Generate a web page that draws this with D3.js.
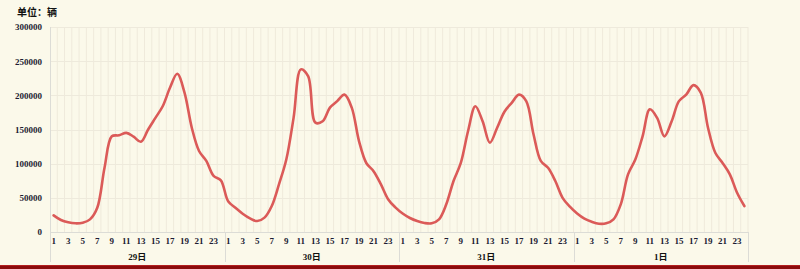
<!DOCTYPE html>
<html>
<head>
<meta charset="utf-8">
<script src="https://cdn.jsdelivr.net/npm/d3@7/dist/d3.min.js"></script>
<style>
  html, body { margin: 0; padding: 0; background: #fbf9ea; }
  svg { display: block; }
</style>
</head>
<body>
<div class="chart"></div>
<script>
(function (d3) {
    'use strict';

    var days = ["29日", "30日", "31日", "1日"];
    var hours = d3.range(1, 25);
    var yTicks = [0, 50000, 100000, 150000, 200000, 250000, 300000];

    var day29 = [24400, 17600, 14200, 12700, 13600, 18500, 35500, 94000, 140000, 141500, 145000, 139500,
                 132000, 150000, 167000, 184000, 211000, 231500, 204000, 152600, 118500, 104000, 82000, 75600];
    var day30 = [45000, 35500, 26800, 20000, 16000, 21000, 38000, 70000, 106000, 167000, 238000, 228000,
                 160000, 162000, 182000, 191500, 201000, 182000, 133000, 101000, 89000, 70000, 48000, 36000];
    var day31 = [27000, 20500, 16000, 13200, 12700, 18500, 40500, 74600, 101000, 147800, 184000, 162000,
                 130600, 152600, 176000, 189000, 201000, 191500, 143000, 104000, 94000, 74600, 50000, 37000];
    var day1  = [27000, 19500, 15000, 12100, 12700, 18500, 40500, 84400, 106000, 140000, 179500, 167000,
                 140000, 162000, 191500, 201000, 215000, 204000, 152600, 116000, 101000, 84400, 57500, 38000];
    var series = [day29, day30, day31, day1];

    var width = 800, height = 269,
        margin = {top: 27, right: 52, bottom: 37, left: 50},
        innerW = width - margin.left - margin.right,
        innerH = height - margin.top - margin.bottom;

    var points = [];
    days.forEach(function (day, di) {
        hours.forEach(function (h, hi) {
            points.push({key: di + "-" + h, day: day, hour: h, value: series[di][hi]});
        });
    });

    var svg = d3.select(".chart").append("svg")
        .attr("width", width)
        .attr("height", height)
        .style("background", "#fbf9ea");

    // title
    svg.append("text")
        .attr("x", 17).attr("y", 16)
        .attr("font-family", "'Noto Sans CJK SC', sans-serif")
        .attr("font-weight", "bold")
        .attr("font-size", 10)
        .attr("fill", "#111")
        .text("单位：辆");

    var g = svg.append("g").attr("transform", "translate(" + margin.left + "," + margin.top + ")");

    var x = d3.scaleBand().domain(points.map(function (d) { return d.key; })).range([0, innerW]);
    var y = d3.scaleLinear().domain([0, 300000]).range([innerH, 0]);

    // vertical grid at every category edge
    g.append("g").selectAll("line")
        .data(points)
        .enter().append("line")
        .attr("x1", function (d) { return x(d.key) + x.bandwidth(); })
        .attr("x2", function (d) { return x(d.key) + x.bandwidth(); })
        .attr("y1", 0).attr("y2", innerH)
        .attr("stroke", "#efeadb")
        .attr("stroke-width", 1);

    // horizontal grid
    g.append("g").selectAll("line")
        .data(yTicks.slice(1))
        .enter().append("line")
        .attr("x1", 0).attr("x2", innerW)
        .attr("y1", function (d) { return Math.round(y(d)) + 0.5; })
        .attr("y2", function (d) { return Math.round(y(d)) + 0.5; })
        .attr("stroke", "#eeeadc")
        .attr("stroke-width", 1);

    // y axis labels
    var yAxis = g.append("g")
        .call(d3.axisLeft(y).tickValues(yTicks).tickFormat(d3.format("d")).tickSize(0).tickPadding(8));
    yAxis.select(".domain").remove();
    yAxis.selectAll("text")
        .attr("font-family", "'Liberation Serif', serif")
        .attr("font-weight", "bold")
        .attr("font-size", 9)
        .attr("fill", "#1c1c33");

    // left axis line, extends to the bottom of the day groups
    g.append("line")
        .attr("x1", 0.5).attr("x2", 0.5)
        .attr("y1", 0).attr("y2", innerH + 30)
        .attr("stroke", "#dcdcd6");

    // x axis (hours)
    var xAxis = g.append("g")
        .attr("transform", "translate(0," + innerH + ")")
        .call(d3.axisBottom(x).tickSize(0).tickPadding(6)
            .tickFormat(function (k) {
                var h = +k.split("-")[1];
                return h % 2 === 1 ? h : "";
            }));
    xAxis.select(".domain").attr("stroke", "#dcdcd6");
    xAxis.selectAll("text")
        .attr("font-family", "'Liberation Serif', serif")
        .attr("font-weight", "bold")
        .attr("font-size", 9)
        .attr("fill", "#1c1c33");

    // day groups
    var dayW = innerW / days.length;
    var groups = g.append("g").attr("transform", "translate(0," + innerH + ")");
    groups.selectAll("line")
        .data(d3.range(days.length + 1))
        .enter().append("line")
        .attr("x1", function (i) { return Math.round(i * dayW) + 0.5; })
        .attr("x2", function (i) { return Math.round(i * dayW) + 0.5; })
        .attr("y1", 0).attr("y2", 30)
        .attr("stroke", "#dcdcd6");
    groups.selectAll("text")
        .data(days)
        .enter().append("text")
        .attr("x", function (d, i) { return (i + 0.5) * dayW; })
        .attr("y", 28)
        .attr("text-anchor", "middle")
        .attr("font-family", "'Liberation Serif', 'Noto Sans CJK SC', serif")
        .attr("font-weight", "bold")
        .attr("font-size", 9)
        .attr("fill", "#111")
        .text(function (d) { return d; });

    // line
    var line = d3.line()
        .x(function (d) { return x(d.key) + x.bandwidth() / 2; })
        .y(function (d) { return y(d.value); })
        .curve(d3.curveCatmullRom.alpha(0.5));

    g.append("path")
        .datum(points)
        .attr("fill", "none")
        .attr("stroke", "#db5a58")
        .attr("stroke-width", 2.6)
        .attr("stroke-linejoin", "round")
        .attr("stroke-linecap", "round")
        .attr("d", line);

    // bottom strip
    svg.append("rect")
        .attr("x", 0).attr("y", 265)
        .attr("width", width).attr("height", 4)
        .attr("fill", "#8a0c0c");
    svg.append("line")
        .attr("x1", 0).attr("x2", width)
        .attr("y1", 265.5).attr("y2", 265.5)
        .attr("stroke", "#b32020");
})(d3);
</script>
</body>
</html>
